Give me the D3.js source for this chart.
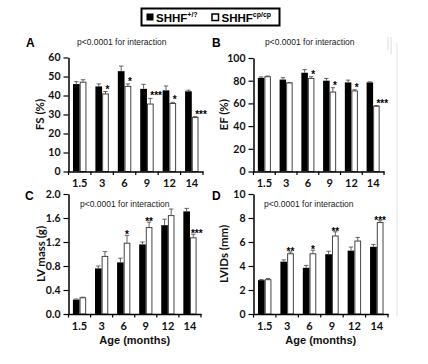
<!DOCTYPE html>
<html>
<head>
<meta charset="utf-8">
<script src="https://cdnjs.cloudflare.com/ajax/libs/d3/7.8.5/d3.min.js"></script>
<style>
body { margin: 0; background: #fff; }
svg { display: block; font-family: "Liberation Sans", Arial, sans-serif; }
.y.axis .tick text, .x.axis .tick text { font-family: Lato, "Liberation Sans", sans-serif; font-weight: bold; fill: #111; }
.y.axis .tick text { font-size: 10.5px; }
.x.axis .tick text { font-size: 11px; }
.axis .domain { stroke: #000; stroke-width: 1.5px; }
.axis .tick line { stroke: #000; stroke-width: 1.2px; }
.ptitle { font-size: 8.5px; fill: #222; }
.plabel { font-size: 12px; font-weight: bold; fill: #000; }
.ylab { font-family: Lato, "Liberation Sans", sans-serif; font-size: 11.5px; font-weight: bold; fill: #111; }
.xlab { font-size: 11px; font-weight: bold; fill: #111; }
.star { font-size: 10px; font-weight: bold; fill: #000; }
</style>
</head>
<body>
<svg width="428" height="364"></svg>
<script>
const ages = ['1.5', '3', '6', '9', '12', '14'];
const groups = ['wt', 'cp'];

// FS (%)
const fsWT = [46, 44.8, 52.8, 43.5, 42.7, 42.2];
const fsWTErr = [1.3, 1.3, 2.7, 2.4, 2.3, 0.6];
const fsCP = [47, 40.8, 44.8, 35.5, 35.8, 28.5];
const fsCPErr = [1.3, 1.3, 1.3, 3, 0.6, 0.4];
const fsStars = ['', '*', '*', '***', '*', '***'];

// EF (%)
const efWT = [82.5, 81, 87, 80, 78.5, 78.5];
const efWTErr = [0.8, 1.6, 2.8, 2, 2, 0.5];
const efCP = [83.5, 78, 82, 70, 71, 57.5];
const efCPErr = [0.6, 0.5, 1.5, 3.8, 1, 0.6];
const efStars = ['', '', '*', '*', '*', '***'];

// LV mass (g)
const lvmWT = [0.24, 0.76, 0.86, 1.16, 1.48, 1.71];
const lvmWTErr = [0.01, 0.04, 0.07, 0.04, 0.1, 0.05];
const lvmCP = [0.27, 0.96, 1.18, 1.44, 1.64, 1.27];
const lvmCPErr = [0.01, 0.08, 0.13, 0.09, 0.11, 0.06];
const lvmStars = ['', '', '*', '**', '', '***'];

// LVIDs (mm)
const lvidWT = [2.82, 4.36, 3.85, 4.98, 5.28, 5.6];
const lvidWTErr = [0.05, 0.15, 0.2, 0.25, 0.3, 0.2];
const lvidCP = [2.86, 5.02, 5.02, 6.5, 6.08, 7.62];
const lvidCPErr = [0.1, 0.15, 0.3, 0.35, 0.3, 0.15];
const lvidStars = ['', '**', '*', '**', '', '***'];

const TITLE = 'p<0.0001 for interaction';

const panels = [
    { id: 'A', ylab: 'FS (%)', wt: fsWT, wtErr: fsWTErr, cp: fsCP, cpErr: fsCPErr, stars: fsStars,
      max: 60, step: 10, fmt: d3.format('d'), left: 68.5, right: 203, bottom: 171.5, top: 57.5,
      labX: 26, labY: 47, titleX: 77, titleY: 45, ylabX: 40, starMode: 'side', xlab: false },
    { id: 'B', ylab: 'EF (%)', wt: efWT, wtErr: efWTErr, cp: efCP, cpErr: efCPErr, stars: efStars,
      max: 100, step: 20, fmt: d3.format('d'), left: 253.5, right: 384, bottom: 171.5, top: 58,
      labX: 212, labY: 47, titleX: 265, titleY: 45, ylabX: 224, starMode: 'side', xlab: false },
    { id: 'C', ylab: 'LV mass (g)', wt: lvmWT, wtErr: lvmWTErr, cp: lvmCP, cpErr: lvmCPErr, stars: lvmStars,
      max: 2.0, step: 0.4, fmt: d3.format('.1f'), left: 68.5, right: 201, bottom: 314, top: 194,
      labX: 25, labY: 200, titleX: 80, titleY: 207, ylabX: 41, starMode: 'top', xlab: true },
    { id: 'D', ylab: 'LVIDs (mm)', wt: lvidWT, wtErr: lvidWTErr, cp: lvidCP, cpErr: lvidCPErr, stars: lvidStars,
      max: 10, step: 2, fmt: d3.format('d'), left: 253.5, right: 388, bottom: 314, top: 194,
      labX: 212, labY: 200, titleX: 264, titleY: 207, ylabX: 224, starMode: 'top', xlab: true }
];

const $svg = d3.select('svg');

// faint scan artefacts on the right side
$svg.append('line').attr('x1', 397).attr('x2', 397).attr('y1', 43).attr('y2', 316)
    .attr('stroke', '#e2e2e2').attr('stroke-width', 1);
$svg.append('line').attr('x1', 388).attr('x2', 388).attr('y1', 37).attr('y2', 50)
    .attr('stroke', '#d0d0d0').attr('stroke-width', 0.8);
$svg.append('line').attr('x1', 391).attr('x2', 391).attr('y1', 37).attr('y2', 54)
    .attr('stroke', '#d0d0d0').attr('stroke-width', 0.8);

// legend
const legend = $svg.append('g').attr('class', 'legend');
legend.append('rect').attr('x', 141.5).attr('y', 8.5).attr('width', 138).attr('height', 17)
    .attr('fill', '#fff').attr('stroke', '#000').attr('stroke-width', 2);
legend.append('rect').attr('x', 146.5).attr('y', 13.5).attr('width', 7).attr('height', 7).attr('fill', '#000');
legend.append('rect').attr('x', 212).attr('y', 14).attr('width', 6.5).attr('height', 6.5)
    .attr('fill', '#fff').attr('stroke', '#000').attr('stroke-width', 1.5);
const lt1 = legend.append('text').attr('x', 156).attr('y', 21.5).attr('font-weight', 'bold').attr('font-size', 11.5);
lt1.append('tspan').text('SHHF');
lt1.append('tspan').attr('font-size', 7).attr('dy', -4.5).text('+/?');
const lt2 = legend.append('text').attr('x', 221.5).attr('y', 21.5).attr('font-weight', 'bold').attr('font-size', 11.5);
lt2.append('tspan').text('SHHF');
lt2.append('tspan').attr('font-size', 7).attr('dy', -4.5).text('cp/cp');

panels.forEach(p => {
    const g = $svg.append('g').attr('class', 'panel panel-' + p.id);

    const x0 = d3.scaleBand().domain(ages).range([p.left, p.right]).paddingInner(0.4).paddingOuter(0.2);
    const x1 = d3.scaleBand().domain(groups).range([0, x0.bandwidth()]);
    const y = d3.scaleLinear().domain([0, p.max]).range([p.bottom, p.top]);

    const rows = ages.map((a, i) => ({
        age: a, i: i, stars: p.stars[i],
        bars: [
            { key: 'wt', v: p.wt[i], e: p.wtErr[i] },
            { key: 'cp', v: p.cp[i], e: p.cpErr[i] }
        ]
    }));

    // bars
    const grp = g.selectAll('.grp').data(rows).enter().append('g')
        .attr('class', 'grp')
        .attr('transform', d => `translate(${x0(d.age)},0)`);

    const bar = grp.selectAll('.bar').data(d => d.bars).enter().append('g').attr('class', 'bar');

    bar.append('rect')
        .attr('x', d => x1(d.key) + (d.key === 'cp' ? 0.5 : 0))
        .attr('y', d => y(d.v))
        .attr('width', d => x1.bandwidth() - (d.key === 'cp' ? 1 : 0))
        .attr('height', d => y(0) - y(d.v))
        .attr('fill', d => d.key === 'wt' ? '#000' : '#fff')
        .attr('stroke', d => d.key === 'wt' ? 'none' : '#444')
        .attr('stroke-width', 1);

    // error bars (upper only)
    bar.append('line')
        .attr('x1', d => x1(d.key) + x1.bandwidth() / 2)
        .attr('x2', d => x1(d.key) + x1.bandwidth() / 2)
        .attr('y1', d => y(d.v))
        .attr('y2', d => y(d.v + d.e))
        .attr('stroke', '#555').attr('stroke-width', 0.9);
    bar.append('line')
        .attr('x1', d => x1(d.key) + x1.bandwidth() / 2 - 2.2)
        .attr('x2', d => x1(d.key) + x1.bandwidth() / 2 + 2.2)
        .attr('y1', d => y(d.v + d.e))
        .attr('y2', d => y(d.v + d.e))
        .attr('stroke', '#555').attr('stroke-width', 0.9);

    // significance stars
    grp.filter(d => d.stars).append('text')
        .attr('class', 'star')
        .attr('x', d => {
            const b = d.bars[1];
            if (p.starMode === 'side') return x1('cp') + x1.bandwidth() / 2;
            const wtTop = d.bars[0].v + d.bars[0].e;
            if (y(wtTop) < y(b.v + b.e) - 6) return x1('cp') + 1;
            return x1('cp') + x1.bandwidth() / 2;
        })
        .attr('y', d => {
            const b = d.bars[1];
            return y(b.v + b.e) + (p.starMode === 'side' ? 1 : 3);
        })
        .attr('text-anchor', d => {
            if (p.starMode === 'side') return 'start';
            const b = d.bars[1];
            const wtTop = d.bars[0].v + d.bars[0].e;
            return y(wtTop) < y(b.v + b.e) - 6 ? 'start' : 'middle';
        })
        .text(d => d.stars);

    // y axis
    g.append('g').attr('class', 'y axis')
        .attr('transform', `translate(${p.left},0)`)
        .call(d3.axisLeft(y)
            .tickValues(d3.range(0, p.max + p.step / 2, p.step))
            .tickFormat(p.fmt)
            .tickSize(5).tickSizeOuter(0).tickPadding(3));

    // x axis
    const xa = g.append('g').attr('class', 'x axis')
        .attr('transform', `translate(0,${p.bottom})`)
        .call(d3.axisBottom(x0).tickSize(0).tickSizeOuter(0).tickPadding(8));
    xa.selectAll('.tick line').remove();
    // boundary ticks between age groups
    const bounds = ages.map(a => x0(a) - x0.step() * x0.paddingInner() / 2).concat([p.right]);
    bounds[0] = p.left;
    xa.selectAll('.bnd').data(bounds).enter().append('line')
        .attr('class', 'bnd')
        .attr('x1', d => d).attr('x2', d => d)
        .attr('y1', 0).attr('y2', 3.5)
        .attr('stroke', '#000').attr('stroke-width', 1.2);

    // labels
    g.append('text').attr('class', 'plabel').attr('x', p.labX).attr('y', p.labY).text(p.id);
    g.append('text').attr('class', 'ptitle').attr('x', p.titleX).attr('y', p.titleY).text(TITLE);
    g.append('text').attr('class', 'ylab')
        .attr('transform', `translate(${p.ylabX},${(p.top + p.bottom) / 2}) rotate(-90)`)
        .attr('text-anchor', 'middle').attr('dy', '0.35em')
        .text(p.ylab);
    if (p.xlab) {
        g.append('text').attr('class', 'xlab')
            .attr('x', (p.left + p.right) / 2).attr('y', p.bottom + 30)
            .attr('text-anchor', 'middle')
            .text('Age (months)');
    }
});
</script>
</body>
</html>
